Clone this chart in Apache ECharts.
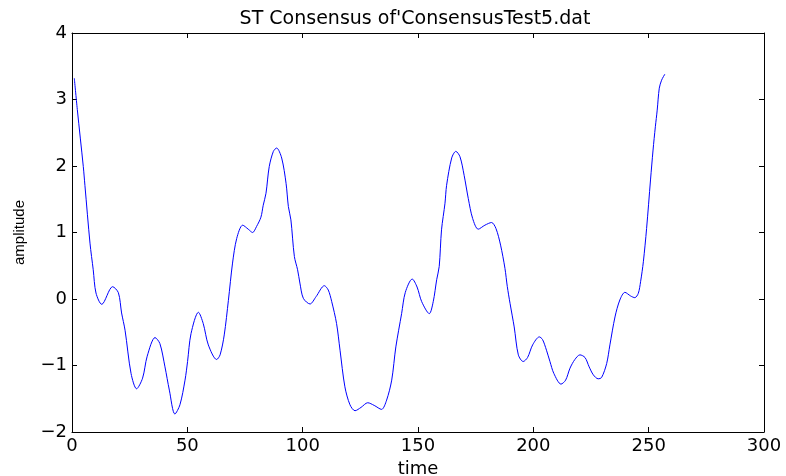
<!DOCTYPE html>
<html>
<head>
<meta charset="utf-8">
<script src="https://cdn.jsdelivr.net/npm/echarts@6/dist/echarts.min.js"></script>
<style>html,body{margin:0;padding:0;background:#fff}#c{width:786px;height:476px}</style>
</head>
<body>
<div id="c"></div>
<script>
const chartTitle = "ST Consensus of'ConsensusTest5.dat";
const xTicks = [0, 50, 100, 150, 200, 250, 300];
const yTicks = [-2, -1, 0, 1, 2, 3, 4];
const timeValues = [1, 2.3, 4.9, 5.6, 7.8, 9.2, 10.4, 12.9, 17.6, 20.1, 21.5, 23, 25.6, 28, 30.6, 32.6, 36, 38.1, 40.3, 42.2, 44.6, 46.8, 49, 50.1, 51.6, 54.8, 56.9, 59.1, 62.7, 64.2, 66, 67.8, 69.6, 71.4, 74, 76.4, 78.3, 80, 81.9, 82.9, 84.1, 85.5, 87.3, 88.7, 90.9, 92.8, 93.8, 94.9, 96.4, 97.8, 98.8, 100.3, 103.2, 105.8, 109.4, 111.1, 112.6, 114.7, 116.2, 118.3, 120.5, 122.7, 125.3, 128.2, 131, 134.2, 136.4, 138.6, 140.4, 142.9, 144.5, 147.5, 149.6, 151.6, 154.9, 156.6, 158.1, 159.2, 160.2, 161.7, 162.4, 164.6, 166.4, 168.2, 170, 171.8, 173.7, 176.1, 179, 181.9, 183.8, 185.8, 187.7, 188.7, 189.9, 191.7, 193.5, 195.6, 197.5, 199.7, 202.6, 204, 205.7, 207.2, 208.9, 212, 214, 215.9, 218, 220.2, 222.4, 224.2, 226, 228.1, 229.6, 231.8, 233.2, 235.4, 237.5, 239.7, 242.2, 244, 245.5, 246.5, 247.7, 249.1, 250.8, 251.9, 252.9, 253.7, 254.6, 255.6, 257];
const amplitudeValues = [3.32, 2.85, 1.99, 1.71, 0.84, 0.44, 0.09, -0.08, 0.185, 0.095, -0.21, -0.47, -1.12, -1.35, -1.19, -0.86, -0.58, -0.67, -1.02, -1.37, -1.73, -1.59, -1.22, -0.94, -0.52, -0.2, -0.37, -0.69, -0.91, -0.84, -0.54, -0.02, 0.54, 0.91, 1.11, 1.05, 1.0, 1.09, 1.23, 1.41, 1.59, 1.99, 2.22, 2.27, 2.12, 1.74, 1.39, 1.19, 0.64, 0.44, 0.24, 0.01, -0.075, 0.035, 0.2, 0.135, -0.04, -0.37, -0.77, -1.32, -1.59, -1.68, -1.63, -1.56, -1.6, -1.66, -1.52, -1.22, -0.72, -0.22, 0.1, 0.3, 0.18, -0.04, -0.22, -0.04, 0.29, 0.49, 1.04, 1.44, 1.71, 2.12, 2.22, 2.14, 1.86, 1.51, 1.21, 1.05, 1.11, 1.15, 1.06, 0.81, 0.46, 0.19, -0.065, -0.42, -0.84, -0.94, -0.88, -0.69, -0.57, -0.61, -0.77, -0.94, -1.12, -1.28, -1.22, -1.04, -0.91, -0.84, -0.88, -1.02, -1.14, -1.2, -1.18, -0.97, -0.69, -0.27, -0.015, 0.1, 0.045, 0.02, 0.085, 0.26, 0.56, 1.06, 1.79, 2.24, 2.59, 2.84, 3.17, 3.29, 3.38];

const seriesData = timeValues.map((t, i) => [t, amplitudeValues[i]]);
const wideFont = "'DejaVu Sans', sans-serif";
const narrowFont = "'Liberation Sans', Arial, sans-serif";
const fmt = v => (v < 0 ? '\u2212' + Math.abs(v) : String(v));
const xMin = xTicks[0], xMax = xTicks[xTicks.length - 1], xStep = xTicks[1] - xTicks[0];
const yMin = yTicks[0], yMax = yTicks[yTicks.length - 1], yStep = yTicks[1] - yTicks[0];

const baseAxis = {
  axisLine: { show: true, onZero: false, lineStyle: { color: '#000', width: 1 } },
  axisTick: { show: true, inside: true, length: 5, lineStyle: { color: '#000' } },
  splitLine: { show: false }
};

const chart = echarts.init(document.getElementById('c'), null, { renderer: 'canvas' });
chart.setOption({
  animation: false,
  backgroundColor: '#fff',
  title: {
    text: chartTitle, left: 410, top: 5, textAlign: 'center',
    textStyle: { fontFamily: wideFont, fontSize: 19, fontWeight: 'normal', color: '#000' }
  },
  grid: { left: 72, right: 22, top: 33, bottom: 44, containLabel: false, outerBoundsMode: 'none' },
  xAxis: [
    Object.assign({}, baseAxis, {
      type: 'value', min: xMin, max: xMax, interval: xStep, position: 'bottom',
      name: 'time', nameLocation: 'middle', nameGap: 19,
      nameTextStyle: { fontFamily: wideFont, fontSize: 18, color: '#000' },
      axisLabel: { fontFamily: wideFont, fontSize: 18, color: '#000', margin: 5, formatter: fmt }
    }),
    Object.assign({}, baseAxis, {
      type: 'value', min: xMin, max: xMax, interval: xStep, position: 'top',
      axisLabel: { show: false }
    })
  ],
  yAxis: [
    Object.assign({}, baseAxis, {
      type: 'value', min: yMin, max: yMax, interval: yStep, position: 'left',
      name: 'amplitude', nameLocation: 'middle', nameGap: 45, nameRotate: 90,
      nameTextStyle: { fontFamily: narrowFont, fontSize: 15, color: '#000' },
      axisLabel: { fontFamily: wideFont, fontSize: 18, color: '#000', margin: 5, formatter: fmt }
    }),
    Object.assign({}, baseAxis, {
      type: 'value', min: yMin, max: yMax, interval: yStep, position: 'right',
      axisLabel: { show: false }
    })
  ],
  series: [{
    type: 'line', data: seriesData, xAxisIndex: 0, yAxisIndex: 0,
    smooth: 0.3, showSymbol: false, symbol: 'none',
    lineStyle: { color: '#0000ff', width: 1 }
  }]
});
</script>
</body>
</html>
